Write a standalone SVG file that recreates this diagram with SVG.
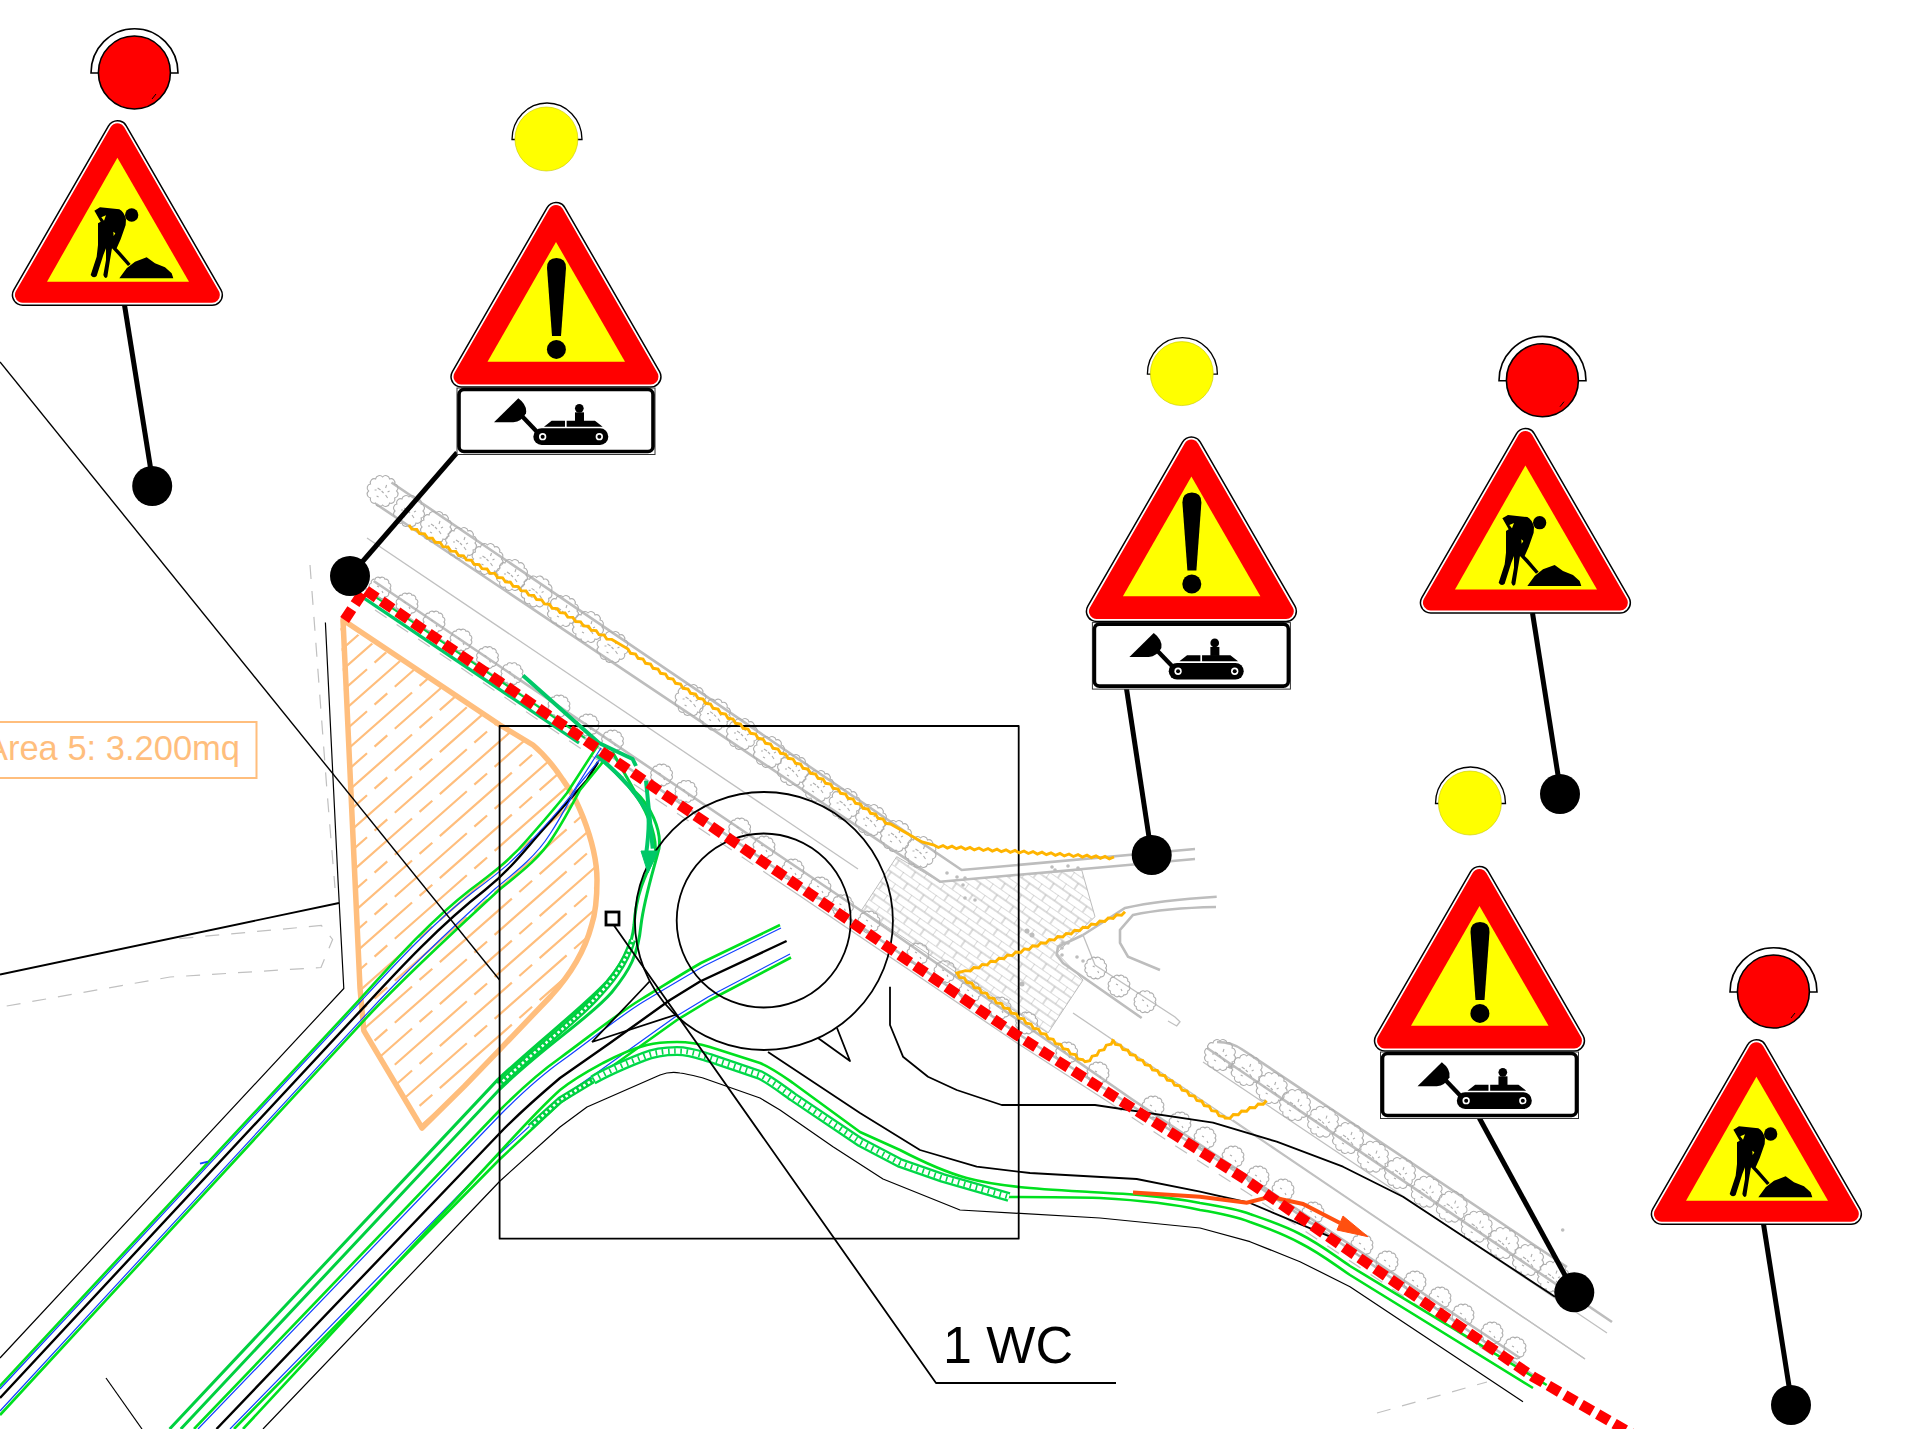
<svg xmlns="http://www.w3.org/2000/svg" width="1906" height="1429" viewBox="0 0 1906 1429">
<style>
.g1{fill:none;stroke:#c0c0c0;stroke-width:1.3}
.g2{fill:none;stroke:#bdbdbd;stroke-width:2.6}
.gd{fill:none;stroke:#c0c0c0;stroke-width:1.2;stroke-dasharray:14 12}
.tree{fill:none;stroke:#aeaeae;stroke-width:1.100}
.k1{fill:none;stroke:#000;stroke-width:1.200;stroke-linejoin:round}
.k2{fill:none;stroke:#000;stroke-width:1.8;stroke-linejoin:round}
.k3{fill:none;stroke:#000;stroke-width:2.4;stroke-linejoin:round}
.gr{fill:none;stroke:#00e01e;stroke-width:2.6;stroke-linejoin:round}
.gm{fill:none;stroke:#00d040;stroke-width:3;stroke-linejoin:round}
.bl{fill:none;stroke:#1040ff;stroke-width:1.2;stroke-linejoin:round}
.te{fill:none;stroke:#00c868;stroke-width:4;stroke-linejoin:round}
.zz{fill:none;stroke:#ffb400;stroke-width:2.9;stroke-linejoin:miter}
.or{fill:none;stroke:#ffbe7d;stroke-width:5.500;stroke-linejoin:round}
.ha{fill:none;stroke:#ffbe7d;stroke-width:2.2;stroke-dasharray:96 10 17 10}
.hb{fill:none;stroke:#ffbe7d;stroke-width:2.2;stroke-dasharray:96 10 17 10;stroke-dashoffset:60}
.post{fill:none;stroke:#000;stroke-width:5}
.bw{fill:none;stroke:#00d040;stroke-width:7;stroke-linejoin:round}
.bd{fill:none;stroke:#fff;stroke-width:2.6;stroke-dasharray:2.6 2.6;stroke-linejoin:round}
.bw2{fill:none;stroke:#00d848;stroke-width:10;stroke-linejoin:round}
.bw3{fill:none;stroke:#fff;stroke-width:5.400;stroke-linejoin:round}
.bw4{fill:none;stroke:#00d848;stroke-width:5.400;stroke-dasharray:1.600 4.600;stroke-linejoin:round}
.t{font-family:"Liberation Sans",Arial,sans-serif}
</style>
<defs>
<pattern id="brick" width="20" height="14" patternUnits="userSpaceOnUse" patternTransform="rotate(35)">
<path d="M0,0H20M0,7H20M0,0V7M10,7V14" fill="none" stroke="#b0b0b0" stroke-width=".9"/>
</pattern>
<clipPath id="areaClip"><path d="M340,623L500,725 533,745C545,755 555,768 563,780 574,795 578,805 583,817 590,835 597,860 597,880 597,900 596,912 591.500,925.500 585,950 570,975 551,996L497.800,1051.600 464,1086.600 422,1128 363.800,1030.600 360,988 355,880Z"/></clipPath>
<path id="treeP" class="tree" d="M14,0A4,4 0 0 1 12.100,7A4,4 0 0 1 7,12.100A4,4 0 0 1 0,14A4,4 0 0 1 -7,12.100A4,4 0 0 1 -12.100,7A4,4 0 0 1 -14,0A4,4 0 0 1 -12.100,-7A4,4 0 0 1 -7,-12.100A4,4 0 0 1 0,-14A4,4 0 0 1 7,-12.100A4,4 0 0 1 12.100,-7A4,4 0 0 1 14,0ZM-5,-3l3,2M3,4l2,3M4,-6l-1,3M-6,5l2,1M-1,0l2,2M7,0l-2,1M-8,-1l2,0"/>
<g id="t"><use href="#treeP"/></g>
<g id="s">
<path class="tree" d="M10,0A3,3 0 0 1 8.700,5A3,3 0 0 1 5,8.700A3,3 0 0 1 0,10A3,3 0 0 1 -5,8.700A3,3 0 0 1 -8.700,5A3,3 0 0 1 -10,0A3,3 0 0 1 -8.700,-5A3,3 0 0 1 -5,-8.700A3,3 0 0 1 0,-10A3,3 0 0 1 5,-8.700A3,3 0 0 1 8.700,-5A3,3 0 0 1 10,0ZM-3,-2l2,1M2,3l1,2"/>
</g>
<path id="tri1" d="M117.400,131L22.700,295H212.100Z"/>
<g id="signDig">
<path d="M91,73A43.500,44.300 0 0 1 178,73Z" fill="#fff" stroke="#000" stroke-width="1.600"/>
<ellipse cx="134.400" cy="72.500" rx="36" ry="36.500" fill="#f00" stroke="#000" stroke-width="1.600"/>
<path d="M152,99l4,-5" stroke="#000" stroke-width="1" fill="none"/>
<use href="#tri1" fill="#000" stroke="#000" stroke-width="22" stroke-linejoin="round"/>
<use href="#tri1" fill="#fff" stroke="#fff" stroke-width="19" stroke-linejoin="round"/>
<use href="#tri1" fill="#f00" stroke="#f00" stroke-width="15.500" stroke-linejoin="round"/>
<path d="M117.400,157.700L47,281.700H189Z" fill="#ff0"/>
<g transform="translate(80,180) scale(.3333)">
<path d="M43,92L60,82 118,88Q132,95 138,118L137,135 122,178 110,205 120,215 152,252 144,258 112,222 96,205 90,240 82,290Q75,300 70,285L78,240 78,205 70,225 50,288Q40,297 32,285L50,230 54,195 54,130 62,125 45,95Z"/>
<circle cx="155" cy="105" r="20"/>
<path d="M118,295L140,265 165,245 200,232 225,250 255,262 275,280 280,295Z"/>
<path d="M64,112L78,106 72,122ZM100,155L106,160 101,168Z" fill="#ff0"/>
</g>
</g>
<g id="signWarn">
<path d="M512,139.500A35,36.500 0 0 1 582,139.500Z" fill="#fff" stroke="#000" stroke-width="1.300"/>
<ellipse cx="546.400" cy="139" rx="31.500" ry="32" fill="#ff0" stroke="#c8c800" stroke-width=".6"/>
<use href="#tri1" x="438.600" y="81.700" fill="#000" stroke="#000" stroke-width="22" stroke-linejoin="round"/>
<use href="#tri1" x="438.600" y="81.700" fill="#fff" stroke="#fff" stroke-width="19" stroke-linejoin="round"/>
<use href="#tri1" x="438.600" y="81.700" fill="#f00" stroke="#f00" stroke-width="15.500" stroke-linejoin="round"/>
<path d="M556,242L487.500,361.700H625Z" fill="#ff0"/>
<path d="M547,268Q547,258 556.500,258Q566,258 566,268L561,336H552Z"/>
<circle cx="556.400" cy="349.400" r="9.500"/>
<rect x="457" y="388" width="198" height="66.500" fill="#fff" stroke="#333" stroke-width="1"/>
<rect x="459" y="389.500" width="194" height="62" rx="5" fill="#fff" stroke="#000" stroke-width="3.600"/>
<g transform="translate(450,380) scale(.3333)">
<path d="M132,127L205,55Q232,75 228,100Q215,125 190,127Z"/>
<path d="M205,97L275,170" stroke="#000" stroke-width="13" fill="none"/>
<rect x="250" y="145" width="225" height="50" rx="25"/>
<circle cx="278" cy="170" r="11" fill="#fff"/><circle cx="278" cy="170" r="6"/>
<circle cx="448" cy="170" r="11" fill="#fff"/><circle cx="448" cy="170" r="6"/>
<path d="M282,140L305,122H345V140ZM350,140V122H435L458,140Z"/>
<circle cx="388" cy="85" r="13"/><rect x="375" y="97" width="27" height="27"/>
</g>
</g>
<line id="h" x1="340" y1="630" x2="600" y2="401"/>
</defs>

<rect width="1906" height="1429" fill="#fff"/>

<g id="site-grey">
<path class="g2" d="M391.500,482.500L961.700,870 1195,849M376,504L940,881.700 1195,859"/>
<path class="g1" d="M367,538L858,869"/>
<path class="g1" d="M1073,1013L1585,1359"/>
<path class="g2" d="M373.700,581L860,910 1133,1100 1520,1358"/>
<path class="g2" d="M364.700,588L800,885 1016.700,1033 1243,1176 1366.700,1261 1533,1375"/>
<path class="g1" d="M768.700,875L800,896 1017,1043 1110,1103"/>
<path class="gd" d="M375,610L768.700,875M1110,1103L1243,1190 1366.700,1272 1500,1360"/>
<path fill="url(#brick)" stroke="#bdbdbd" stroke-width="1" d="M896.700,856.700L861.700,910 1048,1033 1083,980 1056.700,953 1095,916.700 1081.700,870 940,881.700Z"/>
<path class="g2" d="M1083,935L1125,908Q1160,900 1216.700,896.700M1216,907Q1165,908 1133,915L1120,930V943L1128,956.700 1160,970"/>
<path class="g2" d="M1083,935L1058,946.700 1056.700,955 1063,963 1141.700,1018"/>
<path class="g1" d="M1083,935L1095,965 1175,1017 1180,1021.700 1176.700,1026 1168,1021"/>
<path class="g2" d="M1207,1048L1612,1322"/>
<path class="g1" d="M1203,1062L1607,1333M1233,1120L1585,1359"/>
<path class="g2" d="M1217,1042Q1232,1042 1243,1050L1567,1267"/>
<path class="gd" d="M1377,1413L1487,1382"/>
<path class="gd" d="M310,565L327,791 335,888M6.700,1006L170,977 321,967.500 332.600,939.500 321.400,925.500 169.600,939.500"/>
<g fill="#bdbdbd">
<circle cx="947" cy="873" r="1.800"/><circle cx="957" cy="877" r="1.800"/><circle cx="965" cy="878" r="1.800"/><circle cx="963" cy="885" r="1.800"/><circle cx="965" cy="898" r="1.800"/><circle cx="975" cy="900" r="1.800"/><circle cx="1052" cy="867" r="1.800"/><circle cx="1055" cy="870" r="1.800"/><circle cx="1068" cy="866" r="1.800"/><circle cx="1078" cy="868" r="1.800"/><circle cx="1027" cy="931" r="2.500"/><circle cx="1032" cy="935" r="2.500"/><circle cx="1022" cy="984" r="2.500"/><circle cx="1062" cy="948" r="1.800"/><circle cx="1063" cy="943" r="1.800"/><circle cx="1068" cy="943" r="1.800"/><circle cx="1062" cy="955" r="1.800"/><circle cx="1077" cy="957" r="1.800"/><circle cx="1083" cy="961" r="1.800"/><circle cx="1562.700" cy="1230" r="1.800"/><circle cx="1231" cy="1066" r="3"/>
</g>
<g id="trees-big">
<use href="#t" x="382.600" y="491"/><use href="#t" x="409" y="511"/><use href="#t" x="436" y="527"/><use href="#t" x="461" y="543"/><use href="#t" x="487.500" y="559"/><use href="#t" x="512" y="575"/><use href="#t" x="536.600" y="591.400"/><use href="#t" x="563" y="611"/><use href="#t" x="588" y="627"/><use href="#t" x="612.500" y="647"/>
<use href="#t" x="690.600" y="700"/><use href="#t" x="715" y="714.600"/><use href="#t" x="742" y="734"/><use href="#t" x="769" y="752"/><use href="#t" x="793" y="770"/><use href="#t" x="818" y="786"/><use href="#t" x="844.600" y="804"/><use href="#t" x="871" y="820"/><use href="#t" x="896" y="836"/><use href="#t" x="920.500" y="852"/>
<use href="#t" x="1220" y="1055"/><use href="#t" x="1246.700" y="1070"/><use href="#t" x="1271.700" y="1088"/><use href="#t" x="1295" y="1105"/><use href="#t" x="1323" y="1121.700"/><use href="#t" x="1348" y="1138"/><use href="#t" x="1373" y="1156.700"/><use href="#t" x="1400" y="1173"/><use href="#t" x="1426.700" y="1191.700"/><use href="#t" x="1451.700" y="1206.700"/><use href="#t" x="1476.700" y="1226.700"/><use href="#t" x="1503" y="1243"/><use href="#t" x="1528" y="1260"/><use href="#t" x="1553" y="1276.700"/>
</g>
<g id="trees-small">
<use href="#s" x="380" y="588"/><use href="#s" x="407" y="604"/><use href="#s" x="434" y="622"/><use href="#s" x="461" y="640"/><use href="#s" x="487.500" y="657.500"/><use href="#s" x="512" y="673.600"/><use href="#s" x="559" y="706"/><use href="#s" x="588" y="725"/><use href="#s" x="612.500" y="741"/><use href="#s" x="661.600" y="775"/><use href="#s" x="686" y="791.400"/><use href="#s" x="739.700" y="829"/><use href="#s" x="764" y="847"/><use href="#s" x="793" y="870"/><use href="#s" x="820" y="888"/><use href="#s" x="842.400" y="905.700"/><use href="#s" x="869" y="922"/><use href="#s" x="918" y="954"/><use href="#s" x="945" y="971.700"/><use href="#s" x="970" y="991.700"/><use href="#s" x="1000" y="1008"/><use href="#s" x="1026.700" y="1023"/><use href="#s" x="1066.700" y="1053"/><use href="#s" x="1098" y="1073"/><use href="#s" x="1153" y="1107"/><use href="#s" x="1180" y="1123"/><use href="#s" x="1205" y="1138"/><use href="#s" x="1233" y="1157"/><use href="#s" x="1258" y="1177"/><use href="#s" x="1283" y="1190"/><use href="#s" x="1313" y="1213"/><use href="#s" x="1362" y="1245"/><use href="#s" x="1387" y="1262"/><use href="#s" x="1415" y="1282"/><use href="#s" x="1440" y="1298"/><use href="#s" x="1463" y="1315"/><use href="#s" x="1492" y="1333"/><use href="#s" x="1515" y="1348"/>
<use href="#s" x="1095.700" y="968"/><use href="#s" x="1119" y="986"/><use href="#s" x="1145" y="1001.700"/>
</g>
</g>

<g id="work-area">
<g clip-path="url(#areaClip)">
<use href="#h" class="ha"/><use href="#h" y="21" class="hb"/><use href="#h" y="42" class="ha"/><use href="#h" y="63" class="hb"/><use href="#h" y="84" class="ha"/><use href="#h" y="105" class="hb"/><use href="#h" y="126" class="ha"/><use href="#h" y="147" class="hb"/><use href="#h" y="168" class="ha"/><use href="#h" y="189" class="hb"/><use href="#h" y="210" class="ha"/><use href="#h" y="231" class="hb"/><use href="#h" y="252" class="ha"/><use href="#h" y="273" class="hb"/><use href="#h" y="294" class="ha"/><use href="#h" y="315" class="hb"/><use href="#h" y="336" class="ha"/><use href="#h" y="357" class="hb"/><use href="#h" y="378" class="ha"/><use href="#h" y="399" class="hb"/><use href="#h" y="420" class="ha"/><use href="#h" y="441" class="hb"/><use href="#h" y="462" class="ha"/><use href="#h" y="483" class="hb"/><use href="#h" y="504" class="ha"/><use href="#h" y="525" class="hb"/><use href="#h" y="546" class="ha"/><use href="#h" y="567" class="hb"/>
</g>
<path class="or" d="M343,620L500,725 533,745C545,755 555,768 563,780 574,795 578,805 583,817 590,835 597,860 597,880 597,900 596,912 591.500,925.500 585,950 570,975 551,996L497.800,1051.600 464,1086.600 422,1128 363.800,1030.600 360,988 355,880Z"/>
<g id="area-label">
<path d="M-2,722H256.500V778H-2" fill="none" stroke="#ffbe7d" stroke-width="2"/>
<text class="t" x="240" y="760" font-size="34.500" fill="#ffbe7d" text-anchor="end">Area 5: 3.200mq</text>
</g>
</g>

<g id="road-left">
<path class="k3" d="M0,1398L361.600,1009.600C400,968 440,925 485,890 510,870 525,850 540,833L587,780 598,762"/>
<path class="gr" d="M-6.700,1393L354.900,1004.700C385,972 425,925 470,890 490,875 510,860 527,840 542,823 555,808 567,793L598,745"/>
<path class="bl" d="M0,1389L356.600,1005.900C388,972 428,927 473,892 493,877 513,862 530,842 545,826 560,810 571,795L601,748"/>
<path class="gr" d="M0,1415L369,1015C400,982 450,935 499,890 520,873 540,858 553,837 563,822 572,805 580,790L608,755.700"/>
<path class="bl" d="M0,1411L367,1013.600C398,980 447,932 496,888 517,871 537,855 550,834 560,819 569,802 577,787L606,752"/>
<path d="M200,1163.600l8,-2" fill="none" stroke="#1040ff" stroke-width="2"/>
</g>

<g id="road-right">
<path class="gm" d="M169.600,1429L497.800,1079.600C540,1040 580,1010 607,981.500 625,960 632,945 634,925 636,895 645,875 655,855.700 658,835 645,805 630,788 618,775 608,765 597,755.700"/>
<path class="gm" d="M180.800,1429L499,1090C545,1045 590,1018 612,992 630,970 638,955 641,925 644,900 652,875 659,848.600 662,830 650,805 634.800,791.400L612.500,752"/>
<path class="bw" d="M499,1085C535,1050 570,1025 594.600,999 610,983 625,965 632.600,940"/>
<path class="bd" d="M499,1085C535,1050 570,1025 594.600,999 610,983 625,965 632.600,940"/>
<path class="gr" d="M194,1429L499,1111C520,1090 540,1072 560,1058 590,1036 620,1012 640,1000 660,988 680,975 701,963L780,925"/>
<path class="bl" d="M198,1429L502,1113C523,1092 543,1074 563,1060 593,1038 623,1014 643,1002 663,990 683,978 704,966L781,928"/>
<path class="k3" d="M216.500,1429L499,1134C520,1112 540,1095 560,1078L610,1043 670,1000 700,981.500 786.600,941"/>
<path class="gr" d="M234,1429L499,1160 560,1103 600,1075 677,1020 710,1000 791,957.500"/>
<path class="bl" d="M230,1429L496,1157 558,1100 598,1072 675,1017 708,997 790,954"/>
<path class="gr" d="M243,1429L499,1153C520,1130 540,1108 560,1090 575,1078 590,1070 603,1063 620,1054 635,1048 647,1045 658,1042 668,1042 677,1042 690,1042 700,1044 710,1047L760,1063C772,1068 783,1076 793,1083L860,1132 900,1150C925,1163 945,1172 966.700,1178 1000,1187 1040,1189 1090,1192 1130,1194 1165,1196 1200,1203 1225,1207 1240,1210 1250,1214 1270,1221 1285,1226 1300,1234 1320,1244 1335,1256 1350,1266L1546.700,1385"/>
<path class="gr" d="M1009,1197C1040,1197 1070,1197 1100,1198 1135,1200 1170,1203 1200,1210 1225,1214 1240,1218 1250,1222 1270,1229 1285,1235 1300,1243 1320,1253 1335,1265 1350,1275L1533,1388"/>
<path class="bw" d="M530,1127L560,1100 593,1080"/>
<path class="bd" d="M530,1127L560,1100 593,1080"/>
<path class="bw2" d="M593,1080C610,1070 628,1063 643,1057 655,1052 667,1051 677,1051 690,1051 700,1055 710,1058L760,1075C772,1081 783,1090 793,1097L860,1142 900,1163 943,1178 1009,1197"/>
<path class="bw3" d="M593,1080C610,1070 628,1063 643,1057 655,1052 667,1051 677,1051 690,1051 700,1055 710,1058L760,1075C772,1081 783,1090 793,1097L860,1142 900,1163 943,1178 1009,1197"/>
<path class="bw4" d="M593,1080C610,1070 628,1063 643,1057 655,1052 667,1051 677,1051 690,1051 700,1055 710,1058L760,1075C772,1081 783,1090 793,1097L860,1142 900,1163 943,1178 1009,1197"/>
<path class="k1" d="M263,1429L500,1181 560,1127 587,1107 660,1075C668,1072 674,1072 680,1073 688,1074 695,1076 703,1078L760,1098 780,1110 833,1146.700 883,1179 960,1210 1100,1218 1200,1228 1250,1241.700 1300,1261.700 1350,1286.700 1523,1401.700"/>
</g>

<g id="roundabout">
<circle class="k2" cx="763.900" cy="921" r="129"/>
<circle class="k2" cx="763.700" cy="920.500" r="87"/>
<path class="k2" d="M592,1042L632,1000 649.500,981.500M592,1042L675,1015"/>
<path class="k2" d="M818,1038L850,1061 837,1028"/>
<path class="k2" d="M768,1052L860,1113 920,1150 976.700,1166.700 1030,1173 1136.700,1179 1200,1191.700 1250,1203 1330,1236.700"/>
<path class="k2" d="M890,986.700V1025L903,1056.700 928,1076.700 956.700,1090 1001.700,1105 1095,1105 1213,1122.700 1276.700,1141.700 1343,1166.700 1403,1196.700 1555,1296.700"/>
<path class="k1" d="M325.400,622.500L338,880 343.800,988.500 0,1358"/>
<path class="k2" d="M339,903L0,974.500"/>
<path class="k1" d="M106,1378L142,1429"/>
<path class="k2" style="stroke-width:1.400" d="M0,362L499.600,980"/>
<rect class="k2" x="499.600" y="726" width="519.100" height="512.700"/>
</g>

<g id="zigzag">
<path class="zz" d="M409,525l2.8,4.1 5,.3 2.8,4.1 5,.3 2.8,4.1 5,.3 2.8,4.1 5,.3 2.8,4.1 5,.3 2.8,4.1 5,.3 2.8,4.1 5,.3 2.8,4.1 5,.3 2.8,4.1 5,.3 2.8,4.1 5,.3 2.8,4.1 5,.3 2.8,4.1 5,.3 2.8,4.1 5,.3 2.8,4.1 5,.3 2.8,4.1 5,.3 2.8,4.1 5,.3 2.8,4.1 5,.3 2.8,4.1 5,.3 2.8,4.1 5,.3 2.8,4.1 5,.3 2.8,4.1 5,.3 2.8,4.1 5,.3 2.8,4.1 5,.3 2.8,4.1 5,.3 2.8,4.1 5,.3 2.8,4.1 5,.3 L628,649l2.55,4.3 4.95,.7 2.55,4.3 4.95,.7 2.55,4.3 4.95,.7 2.55,4.3 4.95,.7 2.55,4.3 4.95,.7 2.55,4.3 4.95,.7 2.55,4.3 4.95,.7 2.55,4.3 4.95,.7 2.55,4.3 4.95,.7 2.55,4.3 4.95,.7 2.55,4.3 4.95,.7 2.55,4.3 4.95,.7 2.55,4.3 4.95,.7 2.55,4.3 4.95,.7 2.55,4.3 4.95,.7 2.55,4.3 4.95,.7 2.55,4.3 4.95,.7 2.55,4.3 4.95,.7 2.55,4.3 4.95,.7 2.55,4.3 4.95,.7 2.55,4.3 4.95,.7 2.55,4.3 4.95,.7 2.55,4.3 4.95,.7 2.55,4.3 4.95,.7 2.55,4.3 4.95,.7 2.55,4.3 4.95,.7 2.55,4.3 4.95,.7 2.55,4.3 4.95,.7 2.55,4.3 4.95,.7 2.55,4.3 4.95,.7 2.55,4.3 4.95,.7 2.55,4.3 4.95,.7 2.55,4.3 4.95,.7 2.55,4.3 4.95,.7 2.55,4.3 4.95,.7 L922,842 934,845l4.35,2.5 4.65,-1.9 4.35,2.5 4.65,-1.9 4.35,2.5 4.65,-1.9 4.35,2.5 4.65,-1.9 4.35,2.5 4.65,-1.9 4.35,2.5 4.65,-1.9 4.35,2.5 4.65,-1.9 4.35,2.5 4.65,-1.9 4.35,2.5 4.65,-1.9 4.35,2.5 4.65,-1.9 4.35,2.5 4.65,-1.9 4.35,2.5 4.65,-1.9 4.35,2.5 4.65,-1.9 4.35,2.5 4.65,-1.9 4.35,2.5 4.65,-1.9 4.35,2.5 4.65,-1.9 4.35,2.5 4.65,-1.9 4.35,2.5 4.65,-1.9 4.35,2.5 4.65,-1.9 4.35,2.5 4.65,-1.9"/>
<path class="zz" d="M1125,911.700l-3.44,3.6 -4.96,-.5 -3.44,3.6 -4.96,-.5 -3.44,3.6 -4.96,-.5 -3.44,3.6 -4.96,-.5 -3.44,3.6 -4.96,-.5 -3.44,3.6 -4.96,-.5 -3.44,3.6 -4.96,-.5 -3.44,3.6 -4.96,-.5 -3.44,3.6 -4.96,-.5 -3.44,3.6 -4.96,-.5 -3.44,3.6 -4.96,-.5 -3.44,3.6 -4.96,-.5 -3.44,3.6 -4.96,-.5 -3.44,3.6 -4.96,-.5 -3.44,3.6 -4.96,-.5 -3.44,3.6 -4.96,-.5 -3.44,3.6 -4.96,-.5 -3.44,3.6 -4.96,-.5 -3.44,3.6 -4.96,-.5 L957,973l2.45,4.35 4.95,.75 2.45,4.35 4.95,.75 2.45,4.35 4.95,.75 2.45,4.35 4.95,.75 2.45,4.35 4.95,.75 2.45,4.35 4.95,.75 2.45,4.35 4.95,.75 2.45,4.35 4.95,.75 2.45,4.35 4.95,.75 2.45,4.35 4.95,.75 2.45,4.35 4.95,.75 2.45,4.35 4.95,.75 2.45,4.35 4.95,.75 2.45,4.35 4.95,.75 2.45,4.35 4.95,.75 2.45,4.35 4.95,.75 2.45,4.35 4.95,.75 L1085,1061.700l4.85,-1.05 2.25,-4.45 4.85,-1.05 2.25,-4.45 4.85,-1.05 2.25,-4.45 4.85,-1.05 2.25,-4.45 L1113,1040l2.45,4.35 4.95,.75 2.45,4.35 4.95,.75 2.45,4.35 4.95,.75 2.45,4.35 4.95,.75 2.45,4.35 4.95,.75 2.45,4.35 4.95,.75 2.45,4.35 4.95,.75 2.45,4.35 4.95,.75 2.45,4.35 4.95,.75 2.45,4.35 4.95,.75 2.45,4.35 4.95,.75 2.45,4.35 4.95,.75 2.45,4.35 4.95,.75 2.45,4.35 4.95,.75 2.45,4.35 4.95,.75 L1225,1118l5.05,.25 3.25,-3.75 5.05,.25 3.25,-3.75 5.05,.25 3.25,-3.75 5.05,.25 3.25,-3.75 5.05,.25 3.25,-3.75"/>
</g>

<g id="traffic-marks">
<path class="te" style="stroke-width:3.200" d="M364.700,598.600L579,743"/>
<path d="M368,592L585,738" fill="none" stroke="#00d040" stroke-width="2"/>
<path class="te" d="M523,675.400L599,743 632.600,759 636,766"/>
<path class="te" d="M597,755.700C615,770 635,790 648,813 650,825 648,840 646,855"/>
<path class="te" d="M646,780.700L652.700,848.600"/>
<path d="M641,851L658,851 648,873Z" fill="#00c868" stroke="#00c868" stroke-width="1"/>
<path d="M1133,1192.500L1200,1196.700 1246.700,1202.700 1270,1196.700 1303,1204 1340,1223" fill="none" stroke="#ff5010" stroke-width="4"/>
<path d="M1343,1216L1368,1236.700 1337,1230Z" fill="#ff5010" stroke="#ff5010" stroke-width="1"/>
<path d="M344.600,620L364.700,589.600 800,887 1016.700,1035 1243,1178 1366.700,1263 1533,1376.700 1632,1434" fill="none" stroke="#f00" stroke-width="10.500" stroke-dasharray="13 6"/>
</g>

<g id="leader">
<rect x="606" y="912" width="13" height="13" fill="none" stroke="#000" stroke-width="2.800"/>
<path class="k2" d="M614,925.500L936,1383H1116"/>
<text class="t" x="943" y="1363" font-size="52" fill="#000">1 WC</text>
</g>

<g id="connectors">
<path class="post" d="M124.500,305L150.400,467"/>
<path class="post" d="M457,452.700L350,576"/>
<path class="post" d="M1126.400,688L1151.700,855"/>
<path class="post" d="M1532.500,613L1558,775"/>
<path class="post" d="M1479.300,1118L1574.300,1292.300"/>
<path class="post" d="M1763.500,1224L1789,1386"/>
<g fill="#000">
<circle cx="152.200" cy="486" r="20"/><circle cx="350" cy="576" r="20"/><circle cx="1151.700" cy="855" r="20"/><circle cx="1560" cy="794" r="20"/><circle cx="1574.300" cy="1292.300" r="20"/><circle cx="1791" cy="1405" r="20"/>
</g>
</g>

<g id="sign-1"><use href="#signDig"/></g>
<g id="sign-2"><use href="#signWarn"/></g>
<g id="sign-3"><use href="#signWarn" x="635.400" y="234.600"/></g>
<g id="sign-4"><use href="#signDig" x="1408" y="307.700"/></g>
<g id="sign-5"><use href="#signWarn" x="923.500" y="664"/></g>
<g id="sign-6"><use href="#signDig" x="1639" y="919"/></g>
</svg>
